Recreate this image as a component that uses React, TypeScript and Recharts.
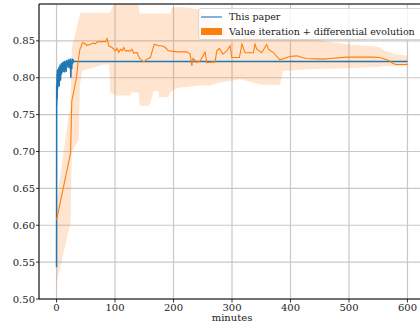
import React from 'react';
import {
  ComposedChart,
  Line,
  Area,
  XAxis,
  YAxis,
  CartesianGrid,
  ReferenceLine,
} from 'recharts';

// "This paper": accuracy over wall-clock minutes
const paperMinutes = [
  0, 0.2, 0.5, 0.8, 1.1, 1.5, 1.9, 2.3, 2.7, 3.1, 3.6, 4.1, 4.6, 5.1, 5.6, 6.2,
  6.8, 7.4, 8.0, 8.6, 9.2, 9.8, 10.5, 11.2, 11.9, 12.6, 13.3, 14.0, 14.8, 15.6,
  16.4, 17.2, 18.0, 18.8, 19.6, 20.4, 21.2, 22.0, 22.8, 23.6, 24.4, 25.2, 26.0,
  26.8, 27.6, 28.4, 29.2, 600,
];
const paperScore = [
  0.543, 0.79, 0.762, 0.805, 0.772, 0.81, 0.785, 0.812, 0.79, 0.806, 0.795,
  0.815, 0.788, 0.81, 0.8, 0.818, 0.796, 0.814, 0.804, 0.82, 0.806, 0.816,
  0.808, 0.822, 0.81, 0.82, 0.807, 0.823, 0.812, 0.821, 0.808, 0.824, 0.814,
  0.822, 0.816, 0.825, 0.813, 0.824, 0.818, 0.826, 0.8, 0.823, 0.812, 0.826,
  0.819, 0.825, 0.822, 0.822,
];

// Value iteration + differential evolution: mean curve
const viMinutes = [
  0, 24, 26, 34, 37, 40, 41, 44, 47, 52, 58, 62, 66, 70, 84, 86.4, 89.3, 95,
  97.8, 100.6, 103.5, 106.3, 109.2, 112, 114.8, 117.7, 126.2, 129, 131.9, 137.6,
  142, 149, 154.6, 160.3, 167.1, 174.5, 180.2, 185.9, 191.6, 205.8, 222.8,
  228.5, 231.4, 233, 237, 239.9, 245.6, 254.1, 257, 271.1, 274, 278.6, 284.3,
  291.1, 296.8, 299.6, 312.7, 317, 322.4, 336.6, 339.4, 342.3, 350.8, 359.3,
  362.2, 370.7, 382, 399.1, 410.5, 420, 427.5, 456, 468, 495.6, 541, 552, 558,
  569.3, 575, 580.6, 600,
];
const viScore = [
  0.607, 0.698, 0.768, 0.8, 0.822, 0.839, 0.84, 0.847, 0.847, 0.844, 0.845,
  0.847, 0.846, 0.849, 0.849, 0.8533, 0.843, 0.841, 0.8388, 0.8365, 0.8397,
  0.8343, 0.8388, 0.8365, 0.841, 0.8365, 0.8365, 0.8388, 0.8334, 0.8343,
  0.8261, 0.8215, 0.8252, 0.8274, 0.8456, 0.8433, 0.8433, 0.841, 0.8365,
  0.8351, 0.8351, 0.832, 0.8161, 0.8261, 0.8238, 0.8206, 0.8229, 0.8346,
  0.8206, 0.8215, 0.8365, 0.8397, 0.832, 0.8365, 0.8433, 0.8274, 0.8274,
  0.8456, 0.834, 0.834, 0.8456, 0.8388, 0.834, 0.845, 0.8388, 0.834, 0.8243,
  0.8288, 0.8297, 0.8274, 0.826, 0.8252, 0.826, 0.828, 0.828, 0.8274, 0.826,
  0.823, 0.8193, 0.818, 0.818,
];

// Value iteration + differential evolution: spread band
const bandMinutes = [
  0, 20, 24, 26, 38, 40, 42, 44, 60, 80, 90, 92, 98, 101, 126, 127, 140, 142,
  157, 160, 166, 174, 175, 191, 195, 197, 206, 229, 240, 263, 280, 300, 314,
  348, 382, 387, 428, 450, 500, 550, 560, 580, 600,
];
const bandLow = [
  0.522, 0.59, 0.603, 0.7, 0.716, 0.79, 0.8, 0.81, 0.813, 0.818, 0.818, 0.78,
  0.778, 0.776, 0.776, 0.78, 0.78, 0.762, 0.762, 0.765, 0.782, 0.782, 0.7735,
  0.7735, 0.782, 0.782, 0.786, 0.788, 0.789, 0.79, 0.794, 0.796, 0.798, 0.791,
  0.79, 0.809, 0.8115, 0.812, 0.813, 0.815, 0.816, 0.816, 0.816,
];
const bandHigh = [
  0.63, 0.745, 0.76, 0.84, 0.88, 0.886, 0.888, 0.888, 0.888, 0.888, 0.888,
  0.89, 0.9, 0.9, 0.9, 0.9, 0.9, 0.887, 0.887, 0.887, 0.887, 0.887, 0.887,
  0.887, 0.887, 0.895, 0.896, 0.895, 0.893, 0.88, 0.868, 0.86, 0.858, 0.856,
  0.854, 0.854, 0.853, 0.851, 0.845, 0.842, 0.837, 0.832, 0.83,
];

const xTicks = [0, 100, 200, 300, 400, 500, 600];
const yTicks = [0.5, 0.55, 0.6, 0.65, 0.7, 0.75, 0.8, 0.85];

const legendPaper = 'This paper';
const legendVi = 'Value iteration + differential evolution';
const xTitle = 'minutes';

const paperData = paperMinutes.map((m, i) => ({ minute: m, score: paperScore[i] }));
const viData = viMinutes.map((m, i) => ({ minute: m, score: viScore[i] }));
const bandData = bandMinutes.map((m, i) => ({ minute: m, range: [bandLow[i], bandHigh[i]] }));

const FONT = '"DejaVu Serif", serif';
const BLUE = '#1f77b4';
const ORANGE = '#ff7f0e';

const tickStyle = { fontSize: 10, fill: '#222', fontFamily: FONT };

export default function App() {
  return (
    <div
      style={{
        position: 'fixed',
        left: 0,
        top: 0,
        width: 420,
        height: 328,
        overflow: 'hidden',
        background: '#fff',
      }}
    >
      <ComposedChart
        width={440}
        height={328}
        margin={{ top: 4, right: 15, bottom: 0, left: 0 }}
      >
        <Area
          data={bandData}
          dataKey="range"
          type="linear"
          stroke="none"
          fill={ORANGE}
          fillOpacity={0.2}
          isAnimationActive={false}
          dot={false}
          activeDot={false}
        />
        <CartesianGrid stroke="#c8c8c8" strokeWidth={1.2} />
        <XAxis
          dataKey="minute"
          type="number"
          domain={[-30, 630]}
          ticks={xTicks}
          allowDataOverflow
          height={29}
          tickSize={3.5}
          tickMargin={1.5}
          tick={tickStyle}
          tickLine={{ stroke: '#000', strokeWidth: 0.8 }}
          axisLine={{ stroke: '#000', strokeWidth: 1 }}
          label={{
            value: xTitle,
            position: 'insideBottom',
            offset: 7,
            fontSize: 10,
            fill: '#222',
            fontFamily: FONT,
          }}
        />
        <YAxis
          type="number"
          domain={[0.5, 0.9]}
          ticks={yTicks}
          allowDataOverflow
          width={39}
          tickSize={3}
          tickMargin={1}
          tick={tickStyle}
          tickFormatter={(v: number) => v.toFixed(2)}
          tickLine={{ stroke: '#000', strokeWidth: 0.8 }}
          axisLine={{ stroke: '#000', strokeWidth: 1 }}
        />
        <ReferenceLine y={0.9} stroke="#000" strokeWidth={1} />
        <Line
          data={paperData}
          dataKey="score"
          type="linear"
          stroke={BLUE}
          strokeWidth={1.5}
          dot={false}
          activeDot={false}
          isAnimationActive={false}
        />
        <Line
          data={viData}
          dataKey="score"
          type="linear"
          stroke={ORANGE}
          strokeWidth={1.1}
          dot={false}
          activeDot={false}
          isAnimationActive={false}
        />
      </ComposedChart>
      <div
        style={{
          position: 'absolute',
          left: 198,
          top: 8,
          width: 230,
          height: 32,
          boxSizing: 'border-box',
          border: '1px solid #d6d6d6',
          borderRadius: 3,
          background: 'rgba(255,255,255,0.8)',
          fontFamily: FONT,
          fontSize: 9.5,
          color: '#222',
        }}
      >
        <div style={{ position: 'absolute', left: 2, top: 7, width: 21, height: 1.5, background: BLUE, opacity: 0.55 }} />
        <div style={{ position: 'absolute', left: 30, top: 1, lineHeight: '14px', whiteSpace: 'nowrap' }}>{legendPaper}</div>
        <div style={{ position: 'absolute', left: 2, top: 19, width: 21, height: 7, background: ORANGE }} />
        <div style={{ position: 'absolute', left: 30, top: 15.5, lineHeight: '14px', whiteSpace: 'nowrap' }}>{legendVi}</div>
      </div>
    </div>
  );
}
